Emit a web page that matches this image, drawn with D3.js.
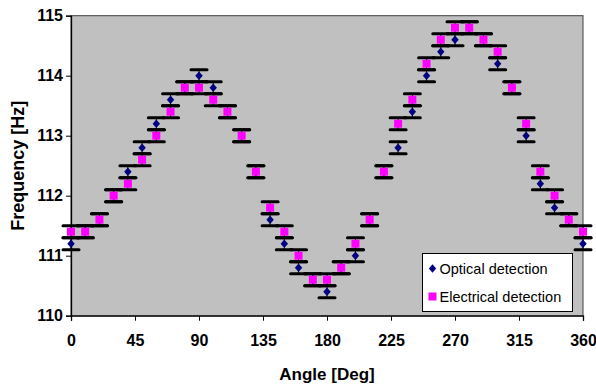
<!DOCTYPE html>
<html>
<head>
<meta charset="utf-8">
<script src="https://cdn.jsdelivr.net/npm/d3@7"></script>
<style>
  body { margin: 0; background: #ffffff; }
  svg { display: block; font-family: Arial, "Liberation Sans", sans-serif; }
</style>
</head>
<body>
<div id="graph-container"></div>
<script>
// angle of each measurement [deg]
var angles = [0, 10, 20, 30, 40, 50, 60, 70, 80, 90, 100, 110, 120, 130, 140, 150, 160, 170, 180,
              190, 200, 210, 220, 230, 240, 250, 260, 270, 280, 290, 300, 310, 320, 330, 340, 350, 360];

// frequency read by optical detection [Hz]
var optical = [111.2, 111.4, 111.6, 112.0, 112.4, 112.8, 113.2, 113.6, 113.8, 114.0, 113.8, 113.4, 113.0,
               112.4, 111.6, 111.2, 110.8, 110.6, 110.4, 110.8, 111.0, 111.6, 112.4, 112.8, 113.4, 114.0,
               114.4, 114.6, 114.8, 114.6, 114.2, 113.8, 113.0, 112.2, 111.8, 111.6, 111.2];

// frequency read by electrical detection [Hz]
var electrical = [111.4, 111.4, 111.6, 112.0, 112.2, 112.6, 113.0, 113.4, 113.8, 113.8, 113.6, 113.4, 113.0,
                  112.4, 111.8, 111.4, 111.0, 110.6, 110.6, 110.8, 111.2, 111.6, 112.4, 113.2, 113.6, 114.2,
                  114.6, 114.8, 114.8, 114.6, 114.4, 113.8, 113.2, 112.4, 112.0, 111.6, 111.4];

// error of every point [Hz]
var errorHz = 0.1;

var xTicks = [0, 45, 90, 135, 180, 225, 270, 315, 360];
var yTicks = [110, 111, 112, 113, 114, 115];

var seriesNames = ["Optical detection", "Electrical detection"];

var margin = {top: 15.7, right: 13, bottom: 72.3, left: 71},
    width = 596 - margin.left - margin.right,
    height = 388 - margin.top - margin.bottom;

var svg = d3.select("#graph-container")
  .append("svg")
    .attr("width", 596)
    .attr("height", 388)
  .append("g")
    .attr("transform", `translate(${margin.left},${margin.top})`);

var x = d3.scaleLinear().domain([0, 360]).range([0, width]);
var y = d3.scaleLinear().domain([110, 115]).range([height, 0]);

// grey plot area
svg.append("rect")
    .attr("width", width)
    .attr("height", height)
    .attr("fill", "#c0c0c0")
    .attr("stroke", "#404040")
    .attr("stroke-width", 1);

// x axis
var xAxis = svg.append("g")
    .attr("transform", `translate(0,${height})`)
    .call(d3.axisBottom(x).tickValues(xTicks).tickSize(5).tickPadding(14).tickFormat(d3.format("d")));

// y axis
var yAxis = svg.append("g")
    .call(d3.axisLeft(y).tickValues(yTicks).tickSize(5).tickPadding(3).tickFormat(d3.format("d")));

[xAxis, yAxis].forEach(function(a) {
  a.select(".domain").attr("stroke", "#000").attr("stroke-width", 1.3);
  a.selectAll(".tick line").attr("stroke", "#000");
  a.selectAll(".tick text")
    .attr("fill", "#000")
    .style("font-size", "16px")
    .style("font-weight", "bold");
});

// axis titles
svg.append("text")
    .attr("x", width / 2)
    .attr("y", height + 64)
    .style("text-anchor", "middle")
    .style("font-size", "17px")
    .style("font-weight", "bold")
    .text("Angle [Deg]");

svg.append("text")
    .attr("transform", `translate(${24 - margin.left},${height / 2}) rotate(-90)`)
    .style("text-anchor", "middle")
    .style("font-size", "18px")
    .style("font-weight", "bold")
    .text("Frequency [Hz]");

// both series as rows of {a, v}
var optData = angles.map(function(a, i) { return {a: a, v: optical[i]}; });
var elecData = angles.map(function(a, i) { return {a: a, v: electrical[i]}; });

// error bars, drawn under the markers
var capHalf = 8;
[optData, elecData].forEach(function(data) {
  var bars = svg.append("g").selectAll("g")
    .data(data)
    .enter().append("g");
  bars.append("line")
    .attr("x1", function(d) { return x(d.a); })
    .attr("x2", function(d) { return x(d.a); })
    .attr("y1", function(d) { return y(d.v - errorHz); })
    .attr("y2", function(d) { return y(d.v + errorHz); })
    .attr("stroke", "#000")
    .attr("stroke-width", 1);
  [-errorHz, errorHz].forEach(function(e) {
    bars.append("line")
      .attr("x1", function(d) { return x(d.a) - capHalf; })
      .attr("x2", function(d) { return x(d.a) + capHalf; })
      .attr("y1", function(d) { return y(d.v + e); })
      .attr("y2", function(d) { return y(d.v + e); })
      .attr("stroke", "#000")
      .attr("stroke-width", 3)
      .attr("stroke-linecap", "round");
  });
});

// optical markers: navy diamonds
svg.append("g").selectAll("path")
  .data(optData)
  .enter().append("path")
    .attr("transform", function(d) { return `translate(${x(d.a)},${y(d.v)})`; })
    .attr("d", "M0,-4.3L3.7,0L0,4.3L-3.7,0Z")
    .attr("fill", "#000080");

// electrical markers: magenta squares
svg.append("g").selectAll("rect")
  .data(elecData)
  .enter().append("rect")
    .attr("x", function(d) { return x(d.a) - 4; })
    .attr("y", function(d) { return y(d.v) - 4; })
    .attr("width", 8)
    .attr("height", 8)
    .attr("fill", "#ff00ff");

// legend
var legend = svg.append("g")
    .attr("transform", `translate(${422.5 - margin.left},${253.5 - margin.top})`);

legend.append("rect")
    .attr("width", 150)
    .attr("height", 58)
    .attr("fill", "#ffffff")
    .attr("stroke", "#000")
    .attr("stroke-width", 1);

legend.append("path")
    .attr("transform", "translate(10,15)")
    .attr("d", "M0,-4.3L3.7,0L0,4.3L-3.7,0Z")
    .attr("fill", "#000080");

legend.append("rect")
    .attr("x", 6)
    .attr("y", 39)
    .attr("width", 8)
    .attr("height", 8)
    .attr("fill", "#ff00ff");

legend.selectAll("text.lbl")
  .data(seriesNames)
  .enter().append("text")
    .attr("class", "lbl")
    .attr("x", 17)
    .attr("y", function(d, i) { return 20.5 + i * 28; })
    .style("font-size", "14.5px")
    .text(function(d) { return d; });
</script>
</body>
</html>
